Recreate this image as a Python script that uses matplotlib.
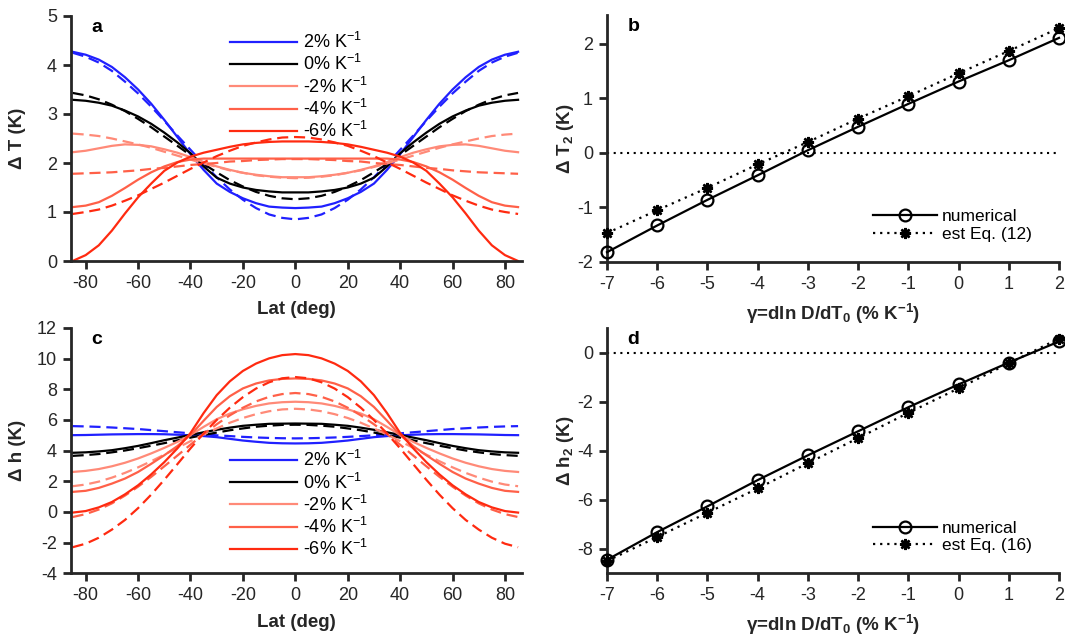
import numpy as np
import matplotlib
matplotlib.use("Agg")
import matplotlib.pyplot as plt

plt.rcParams['font.family'] = ['Liberation Sans', 'DejaVu Sans']
plt.rcParams['mathtext.fontset'] = 'custom'
plt.rcParams['mathtext.rm'] = 'Liberation Sans'
plt.rcParams['mathtext.it'] = 'Liberation Sans:italic'
plt.rcParams['mathtext.bf'] = 'Liberation Sans:bold'
plt.rcParams['axes.unicode_minus'] = False

# ---------------- data ----------------
# latitude (deg), half profile 0..85; curves are symmetric about the equator
lat_half = [0, 5, 10, 15, 20, 25, 30, 35, 40, 45, 50, 55, 60, 65, 70, 75, 80, 85]
labels = ['2% K$^{-1}$', '0% K$^{-1}$', '-2% K$^{-1}$', '-4% K$^{-1}$', '-6% K$^{-1}$']
colors = ['#2020ff', '#000000', '#ff8a78', '#ff6048', '#ff2a10']

# panel a: Delta T (K), numerical (solid)
dT_num_p2 = [1.08, 1.09, 1.11, 1.18, 1.28, 1.41, 1.58, 1.86, 2.18, 2.53, 2.88, 3.21, 3.50, 3.75, 3.96, 4.11, 4.21, 4.27]
dT_num_0 = [1.40, 1.40, 1.42, 1.45, 1.50, 1.58, 1.70, 1.93, 2.20, 2.42, 2.62, 2.80, 2.95, 3.07, 3.17, 3.23, 3.27, 3.29]
dT_num_m2 = [1.71, 1.71, 1.73, 1.76, 1.80, 1.86, 1.93, 2.02, 2.12, 2.21, 2.28, 2.34, 2.37, 2.38, 2.35, 2.30, 2.25, 2.22]
dT_num_m4 = [2.09, 2.09, 2.09, 2.09, 2.09, 2.09, 2.09, 2.09, 2.07, 2.02, 1.93, 1.81, 1.66, 1.49, 1.33, 1.20, 1.13, 1.10]
dT_num_m6 = [2.44, 2.44, 2.43, 2.41, 2.38, 2.33, 2.27, 2.21, 2.13, 2.01, 1.84, 1.58, 1.30, 0.97, 0.62, 0.32, 0.12, 0.00]
# panel a: Delta T (K), estimate (dashed)
dT_est_p2 = [0.85, 0.88, 0.95, 1.08, 1.25, 1.46, 1.71, 1.98, 2.27, 2.56, 2.86, 3.15, 3.42, 3.66, 3.88, 4.05, 4.17, 4.25]
dT_est_0 = [1.26, 1.28, 1.33, 1.41, 1.52, 1.65, 1.81, 1.98, 2.16, 2.35, 2.54, 2.73, 2.90, 3.06, 3.19, 3.30, 3.38, 3.43]
dT_est_m2 = [1.69, 1.70, 1.72, 1.75, 1.80, 1.85, 1.92, 1.99, 2.07, 2.15, 2.23, 2.31, 2.38, 2.44, 2.50, 2.55, 2.58, 2.60]
dT_est_m4 = [2.08, 2.08, 2.07, 2.06, 2.04, 2.03, 2.00, 1.98, 1.96, 1.93, 1.90, 1.88, 1.85, 1.83, 1.81, 1.80, 1.79, 1.78]
dT_est_m6 = [2.53, 2.52, 2.48, 2.42, 2.35, 2.25, 2.14, 2.01, 1.88, 1.74, 1.60, 1.47, 1.34, 1.23, 1.13, 1.05, 1.00, 0.96]

# panel c: Delta h (K), numerical (solid)
dh_num_p2 = [4.47, 4.48, 4.51, 4.58, 4.66, 4.77, 4.88, 4.95, 5.00, 5.04, 5.07, 5.08, 5.08, 5.07, 5.06, 5.04, 5.02, 5.01]
dh_num_0 = [5.77, 5.76, 5.75, 5.69, 5.62, 5.50, 5.36, 5.20, 5.02, 4.85, 4.68, 4.49, 4.31, 4.16, 4.03, 3.95, 3.89, 3.86]
dh_num_m2 = [7.19, 7.16, 7.08, 6.92, 6.70, 6.42, 6.05, 5.55, 5.02, 4.57, 4.18, 3.82, 3.49, 3.21, 2.98, 2.80, 2.68, 2.61]
dh_num_m4 = [8.71, 8.68, 8.58, 8.38, 8.06, 7.55, 6.85, 5.95, 5.02, 4.30, 3.70, 3.14, 2.61, 2.18, 1.85, 1.57, 1.38, 1.31]
dh_num_m6 = [10.30, 10.23, 10.02, 9.68, 9.20, 8.52, 7.62, 6.45, 5.15, 4.15, 3.25, 2.45, 1.74, 1.15, 0.65, 0.30, 0.06, -0.04]
# panel c: Delta h (K), estimate (dashed)
dh_est_p2 = [4.80, 4.81, 4.83, 4.86, 4.90, 4.95, 5.00, 5.07, 5.13, 5.20, 5.27, 5.34, 5.41, 5.46, 5.51, 5.55, 5.58, 5.60]
dh_est_0 = [5.69, 5.68, 5.63, 5.56, 5.45, 5.33, 5.18, 5.02, 4.85, 4.67, 4.49, 4.32, 4.16, 4.01, 3.89, 3.78, 3.71, 3.66]
dh_est_m2 = [6.73, 6.69, 6.57, 6.38, 6.13, 5.82, 5.45, 5.05, 4.62, 4.18, 3.74, 3.31, 2.91, 2.55, 2.24, 1.98, 1.79, 1.68]
dh_est_m4 = [7.76, 7.69, 7.51, 7.21, 6.80, 6.30, 5.72, 5.08, 4.39, 3.68, 2.98, 2.29, 1.65, 1.07, 0.56, 0.16, -0.14, -0.33]
dh_est_m6 = [8.80, 8.72, 8.46, 8.05, 7.49, 6.80, 6.00, 5.12, 4.15, 3.12, 2.10, 1.13, 0.25, -0.52, -1.15, -1.68, -2.07, -2.30]

# panels b, d
gamma = [-7, -6, -5, -4, -3, -2, -1, 0, 1, 2]
dT2_num = [-1.82, -1.33, -0.86, -0.41, 0.05, 0.48, 0.90, 1.31, 1.70, 2.11]
dT2_est = [-1.47, -1.05, -0.64, -0.21, 0.20, 0.63, 1.04, 1.46, 1.87, 2.29]
dh2_num = [-8.45, -7.32, -6.27, -5.20, -4.19, -3.21, -2.23, -1.30, -0.41, 0.45]
dh2_est = [-8.50, -7.52, -6.53, -5.54, -4.51, -3.49, -2.46, -1.46, -0.44, 0.57]

# ---------------- helpers ----------------
def full(v):
    return list(v[::-1]) + list(v[1:])

lat_full = [-x for x in lat_half[::-1]] + lat_half[1:]

TXT = '#262626'
FS = 13

def style(ax):
    for s in ['top', 'right']:
        ax.spines[s].set_visible(False)
    for s in ['left', 'bottom']:
        ax.spines[s].set_linewidth(2.0)
        ax.spines[s].set_color(TXT)
    ax.tick_params(direction='out', length=6, width=2.0, colors=TXT,
                   labelsize=FS, pad=4)

fig = plt.figure(figsize=(10.65, 6.35), dpi=100)
W, H = 1065.0, 635.0
axA = fig.add_axes([71 / W, 1 - 261 / H, 451 / W, 245 / H])
axC = fig.add_axes([71 / W, 1 - 573.3 / H, 451 / W, 245.3 / H])
axB = fig.add_axes([607 / W, 1 - 262 / H, 452 / W, 247 / H])
axD = fig.add_axes([607 / W, 1 - 573.3 / H, 452 / W, 245.3 / H])

def lat_panel(ax, nums, ests, ylim, yticks, ylabel, letter, leg_top):
    style(ax)
    handles = []
    for n, e, c, lab in zip(nums, ests, colors, labels):
        h, = ax.plot(lat_full, full(n), color=c, lw=1.6, label=lab)
        ax.plot(lat_full, full(e), color=c, lw=1.6, dashes=(5, 2.6))
        handles.append(h)
    ax.set_xlim(-85.6, 86.5)
    ax.set_ylim(*ylim)
    ax.set_xticks(range(-80, 81, 20))
    ax.set_yticks(yticks)
    ax.set_xlabel('Lat (deg)', fontsize=FS + 0.5, fontweight='bold', color=TXT)
    ax.xaxis.set_label_coords(0.5, -0.165)
    ax.set_ylabel(ylabel, fontsize=FS + 0.5, fontweight='bold', color=TXT)
    ax.yaxis.set_label_coords(-0.1, 0.5)
    ax.text(0.045, 0.955, letter, transform=ax.transAxes, fontsize=FS + 1,
            fontweight='bold', va='center', ha='left')
    ax.legend(handles=handles, loc='upper left', bbox_to_anchor=(0.352, leg_top),
              frameon=False, fontsize=FS, handlelength=3.75, handletextpad=0.3,
              labelspacing=0.12, borderpad=0, borderaxespad=0)

lat_panel(axA, [dT_num_p2, dT_num_0, dT_num_m2, dT_num_m4, dT_num_m6],
          [dT_est_p2, dT_est_0, dT_est_m2, dT_est_m4, dT_est_m6],
          (0, 5), range(0, 6), 'Δ T (K)', 'a', 0.935)
lat_panel(axC, [dh_num_p2, dh_num_0, dh_num_m2, dh_num_m4, dh_num_m6],
          [dh_est_p2, dh_est_0, dh_est_m2, dh_est_m4, dh_est_m6],
          (-4, 12), range(-4, 13, 2), 'Δ h (K)', 'c', 0.502)

def gamma_panel(ax, num, est, ylim, yticks, ylabel, letter, eqlabel):
    style(ax)
    ax.axhline(0, color='k', lw=1.5, ls=(0, (1, 2.2)))
    ax.plot(gamma, num, color='k', lw=1.6, marker='o', ms=8.5, mfc='none',
            mec='k', mew=1.6, clip_on=False, label='numerical', zorder=3)
    ax.plot(gamma, est, color='k', lw=1.6, ls=(0, (1, 2.2)), marker=(8, 2, 0),
            ms=8, mew=1.8, clip_on=False, label=eqlabel, zorder=3)
    ax.set_xlim(-7, 2)
    ax.set_ylim(*ylim)
    ax.set_xticks(gamma)
    ax.set_yticks(yticks)
    ax.set_xlabel('γ=dln D/dT$_\\mathbf{0}$ (% K$^\\mathbf{-1}$)', fontsize=FS + 0.5,
                  fontweight='bold', color=TXT)
    ax.xaxis.set_label_coords(0.5, -0.16)
    ax.set_ylabel(ylabel, fontsize=FS + 0.5, fontweight='bold', color=TXT)
    ax.yaxis.set_label_coords(-0.068, 0.5)
    ax.text(0.045, 0.955, letter, transform=ax.transAxes, fontsize=FS + 1,
            fontweight='bold', va='center', ha='left')
    ax.legend(loc='upper left', bbox_to_anchor=(0.588, 0.215), frameon=False,
              fontsize=FS - 0.5, handlelength=3.7, handletextpad=0.3,
              labelspacing=0.15, borderpad=0, borderaxespad=0, numpoints=1)

gamma_panel(axB, dT2_num, dT2_est, (-2, 2.53), range(-2, 3), 'Δ T$_\\mathbf{2}$ (K)', 'b',
            'est Eq. (12)')
gamma_panel(axD, dh2_num, dh2_est, (-9, 1.0), range(-8, 1, 2), 'Δ h$_\\mathbf{2}$ (K)', 'd',
            'est Eq. (16)')

fig.savefig('out.png', dpi=100)
